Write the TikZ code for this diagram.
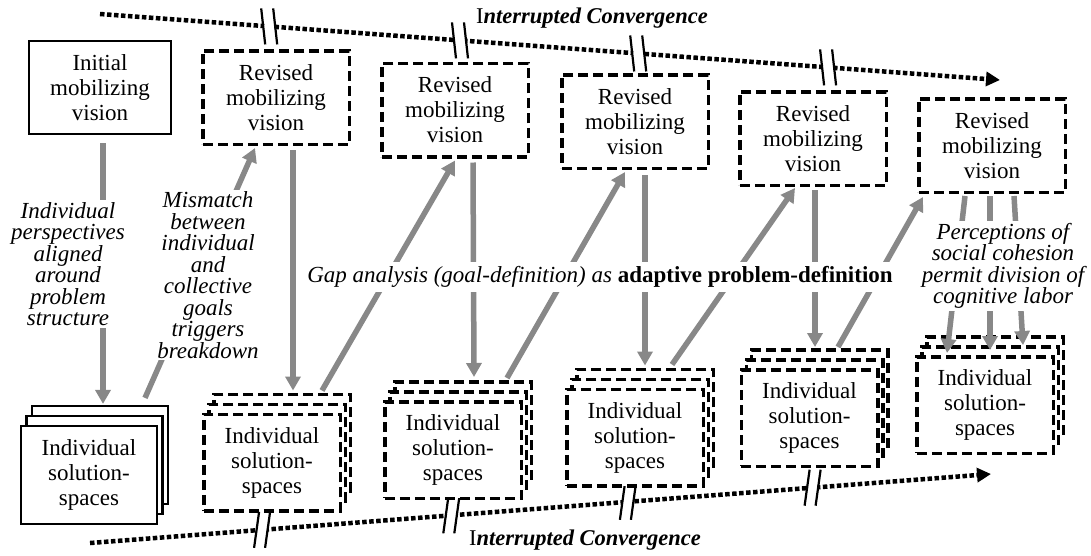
\documentclass[tikz,border=0pt]{standalone}
\usepackage{fontspec}
\setmainfont{Liberation Serif}
\usetikzlibrary{arrows.meta,calc}
\definecolor{arrowgray}{RGB}{136,136,136}
\begin{document}
\begin{tikzpicture}[x=1pt,y=-1pt,
  boxtext/.style={font=\fontsize{23}{25}\selectfont, align=center},
  visionsolid/.style={draw, line width=2.2pt, fill=white, minimum width=142pt, minimum height=93pt, inner sep=0pt, boxtext},
  visiondash/.style={draw, line width=3.5pt, dash pattern=on 10pt off 5pt, fill=white, minimum width=146.5pt, minimum height=93.5pt, inner sep=0pt, boxtext},
  stacksolid/.style={draw, line width=2.2pt, fill=white, minimum width=136pt, minimum height=98pt, inner sep=0pt, boxtext},
  stackdash/.style={draw, line width=3.5pt, dash pattern=on 10pt off 5pt, fill=white, minimum width=136.5pt, minimum height=96.5pt, inner sep=0pt, boxtext},
  grayarrow/.style={draw=arrowgray, line width=5.5pt, -{Triangle[length=14pt,width=15pt]}},
  dotarrow/.style={line width=4.5pt, dash pattern=on 4.5pt off 2.5pt, -{Triangle[length=14pt,width=14pt]}},
  lbl/.style={font=\fontsize{23}{21.5}\selectfont\itshape, align=center, fill=white, inner sep=2pt},
  gaptext/.style={font=\fontsize{23}{25}\selectfont, fill=white, inner sep=4pt},
  convtext/.style={font=\fontsize{22.5}{25}\selectfont, inner sep=0pt},
  brk/.style={line width=2.2pt, line cap=butt},
  gapfill/.style={white, line width=7pt},
]
\useasboundingbox (0,0) rectangle (1091,555);

% ---------- dotted convergence arrows ----------
\coordinate (ts) at (100,14);
\coordinate (te) at (1000,80);
\coordinate (bs) at (90,543);
\coordinate (be) at (991,474);
\draw[dotarrow] (ts) -- (te);
\draw[dotarrow] (bs) -- (be);
\path (ts) -- (te)
  coordinate[pos=0.188] (tb1) coordinate[pos=0.400] (tb2)
  coordinate[pos=0.598] (tb3) coordinate[pos=0.809] (tb4);
\path (bs) -- (be)
  coordinate[pos=0.191] (bb1) coordinate[pos=0.401] (bb2)
  coordinate[pos=0.597] (bb3) coordinate[pos=0.802] (bb4);
\foreach \m in {tb1,tb2,tb3,tb4}{
  \draw[gapfill] ($(\m)+(-5,-0.4)$) -- ($(\m)+(5,0.4)$);
  \draw[brk] ($(\m)+(-8,-18)$) -- ($(\m)+(-4,18)$);
  \draw[brk] ($(\m)+(4,-18)$) -- ($(\m)+(8,18)$);
}
\foreach \m in {bb1,bb2,bb3,bb4}{
  \draw[gapfill] ($(\m)+(-5,0.4)$) -- ($(\m)+(5,-0.4)$);
  \draw[brk] ($(\m)+(-3,-18)$) -- ($(\m)+(-8,18)$);
  \draw[brk] ($(\m)+(8,-18)$) -- ($(\m)+(3,18)$);
}
\node[convtext] (ltop) at (592,18) {I\textbf{\textit{nterrupted Convergence}}};
\node[convtext] (lbot) at (585,540) {I\textbf{\textit{nterrupted Convergence}}};

% ---------- vision boxes ----------
\node[visionsolid] (init) at (100,87.5) {Initial\\mobilizing\\vision};
\node[visiondash] (r1) at (276,97.5) {Revised\\mobilizing\\vision};
\node[visiondash] (r2) at (455,110) {Revised\\mobilizing\\vision};
\node[visiondash] (r3) at (635,121.5) {Revised\\mobilizing\\vision};
\node[visiondash] (r4) at (813,138.5) {Revised\\mobilizing\\vision};
\node[visiondash] (r5) at (992,145.5) {Revised\\mobilizing\\vision};

% ---------- solution-space stacks ----------
\node[stacksolid] (s0c) at (100,455) {};
\node[stacksolid] (s0b) at (94.5,465) {};
\node[stacksolid] (s0) at (89,475) {Individual\\solution-\\spaces};

\node[stackdash] (s1c) at (282,442.5) {};
\node[stackdash] (s1b) at (277,452.5) {};
\node[stackdash] (s1) at (272,462.5) {Individual\\solution-\\spaces};

\node[stackdash] (s2c) at (463,430) {};
\node[stackdash] (s2b) at (458,440) {};
\node[stackdash] (s2) at (453,450) {Individual\\solution-\\spaces};

\node[stackdash] (s3c) at (645,417.5) {};
\node[stackdash] (s3b) at (640,427.5) {};
\node[stackdash] (s3) at (635,437.5) {Individual\\solution-\\spaces};

\node[stackdash] (s4c) at (819.5,398) {};
\node[stackdash] (s4b) at (814.5,408) {};
\node[stackdash] (s4) at (809.5,418) {Individual\\solution-\\spaces};

\node[stackdash] (s5c) at (995,385) {};
\node[stackdash] (s5b) at (990,395) {};
\node[stackdash] (s5) at (985,405) {Individual\\solution-\\spaces};

% ---------- gray arrows ----------
\draw[grayarrow] ($(init.south)+(3,8)$) -- ($(s0c.north)+(3,-1)$);
\draw[grayarrow] ($(s0c.north)+(45,-7)$) -- ($(r1.south)+(-21,2)$);
\draw[grayarrow] ($(r1.south)+(17,4)$) -- ($(s1c.north)+(11,-2)$);
\draw[grayarrow] ($(s1c.north)+(40,-2)$) -- ($(r2.south)+(0,2)$);
\draw[grayarrow] ($(r2.south)+(18,4)$) -- ($(s2c.north)+(11,-3)$);
\draw[grayarrow] ($(s2c.north)+(44,-2)$) -- ($(r3.south)+(-10,2)$);
\draw[grayarrow] ($(r3.south)+(10,5)$) -- ($(s3c.north)+(0,-2)$);
\draw[grayarrow] ($(s3c.north)+(27,-3)$) -- ($(r4.south)+(-18,1)$);
\draw[grayarrow] ($(r4.south)+(2,3)$) -- ($(s4c.north)+(-4.5,-1)$);
\draw[grayarrow] ($(s4c.north)+(18.5,-1)$) -- ($(r5.south west)+(6,3)$);
\draw[grayarrow] ($(r5.south)+(-27,2)$) -- ($(s5.north)+(-38,-2)$);
\draw[grayarrow] ($(r5.south)+(-2,2)$) -- ($(s5.north)+(5,-5)$);
\draw[grayarrow] ($(r5.south)+(22,2)$) -- ($(s5.north)+(38,-10)$);

% ---------- labels ----------
\node[lbl] (lpersp) at (68,264) {Individual\\perspectives\\aligned\\around\\problem\\structure};
\node[lbl] (lmis) at (208,275) {Mismatch\\between\\individual\\and\\collective\\goals\\triggers\\breakdown};
\node[lbl] (lperc) at (1003,266) {Perceptions of\\social cohesion\\permit division of\\cognitive labor};
\node[gaptext] (lgap) at (600,277) {\textit{Gap analysis (goal-definition) as} \textbf{adaptive problem-definition}};
\end{tikzpicture}
\end{document}
